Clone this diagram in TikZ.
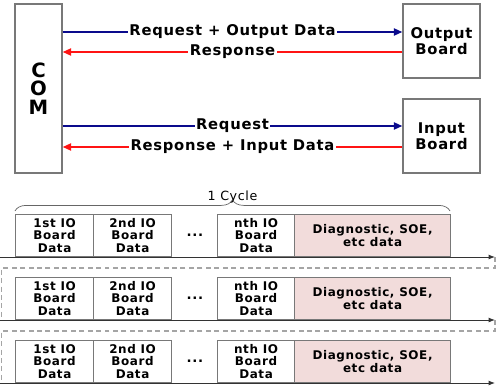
\documentclass[tikz,border=0pt]{standalone}
\usepackage{fontspec}
\setmainfont{DejaVu Sans}[LetterSpace=5]
\usetikzlibrary{arrows.meta,decorations.pathreplacing}

\definecolor{reqblue}{RGB}{10,10,140}
\definecolor{resred}{RGB}{255,20,20}
\definecolor{diagpink}{RGB}{242,220,219}
\definecolor{boxgray}{RGB}{120,120,120}
\definecolor{dashgray}{RGB}{165,165,165}

\tikzset{
  board/.style={draw=boxgray, line width=0.9pt, align=center, inner sep=0pt,
    font=\fontsize{10.5}{11.5}\selectfont\bfseries},
  reqline/.style={draw=reqblue, line width=1.4pt, -{Triangle[length=6pt,width=5pt]}},
  resline/.style={draw=resred, line width=1.4pt, -{Triangle[length=6pt,width=5pt]}},
  lbl/.style={fill=white, inner sep=1pt, text=black, font=\fontsize{10.5}{11.5}\selectfont\bfseries},
  slot/.style={draw=boxgray, line width=0.8pt, anchor=south west, align=center,
    minimum height=1.05cm, inner sep=0pt, font=\fontsize{8.5}{9}\selectfont\bfseries},
  dotsnode/.style={inner sep=0pt, font=\fontsize{9.5}{10}\selectfont\bfseries},
  timeline/.style={draw=black!80, line width=0.7pt, -{Latex[length=4.5pt,width=3.5pt]}},
  retline/.style={draw=dashgray, line width=0.8pt, dash pattern=on 3.5pt off 2.5pt},
  cycbrace/.style={draw=black!60, line width=0.5pt, decorate,
    decoration={brace, amplitude=0.28cm}}
}

\begin{document}
\begin{tikzpicture}[x=0.025cm, y=0.025cm]
\useasboundingbox (0,0) rectangle (500,-387);

% COM and boards
\node[board, minimum width=1.175cm, minimum height=4.225cm,
  font=\fontsize{14}{13}\selectfont\bfseries] (com) at (38.5,-88.5) {C\\O\\M};
\node[board, minimum width=1.925cm, minimum height=1.85cm] (outbrd) at (441.5,-41) {Output\\Board};
\node[board, minimum width=1.925cm, minimum height=1.85cm] (inbrd) at (441.5,-136) {Input\\Board};

% Lanes
\coordinate (lane1) at (0,-32);
\coordinate (lane2) at (0,-52);
\coordinate (lane3) at (0,-126);
\coordinate (lane4) at (0,-147);

\draw[reqline] (com.east |- lane1) -- (outbrd.west |- lane1) node[midway, lbl] {Request + Output Data};
\draw[resline] (outbrd.west |- lane2) -- (com.east |- lane2) node[midway, lbl] {Response};
\draw[reqline] (com.east |- lane3) -- (inbrd.west |- lane3) node[midway, lbl] {Request};
\draw[resline] (inbrd.west |- lane4) -- (com.east |- lane4) node[midway, lbl] {Response + Input Data};

% Frames
\foreach \r/\y in {1/257,2/320,3/383}{
  \node[slot, minimum width=1.95cm] (first\r) at (15,-\y) {1st IO\\Board\\Data};
  \node[slot, minimum width=1.95cm] (second\r) at (93,-\y) {2nd IO\\Board\\Data};
  \node[dotsnode] (dots\r) at (195,-\y+22) {...};
  \node[slot, minimum width=1.925cm] (nth\r) at (217,-\y) {nth IO\\Board\\Data};
  \node[slot, fill=diagpink, minimum width=3.9cm] (diag\r) at (294,-\y) {Diagnostic, SOE,\\etc data};
  \coordinate (t\r) at (0,-\y);
  \coordinate (e\r) at (495,-\y);
  \coordinate (l\r) at (1.5,-\y);
  \draw[timeline] (t\r) -- (e\r);
}

% Wrap around
\draw[retline] (e1) -- ++(0,-11) -| (l2);
\draw[retline] (e2) -- ++(0,-11) -| (l3);

% Cycle brace
\coordinate (cycl) at (15,-211);
\coordinate (cycr) at (450,-211);
\draw[cycbrace] (cycl) -- (cycr) node[midway, above=0.18cm, inner sep=0pt,
  font=\fontsize{9}{10}\selectfont] (cyc) {1 Cycle};
\end{tikzpicture}
\end{document}
